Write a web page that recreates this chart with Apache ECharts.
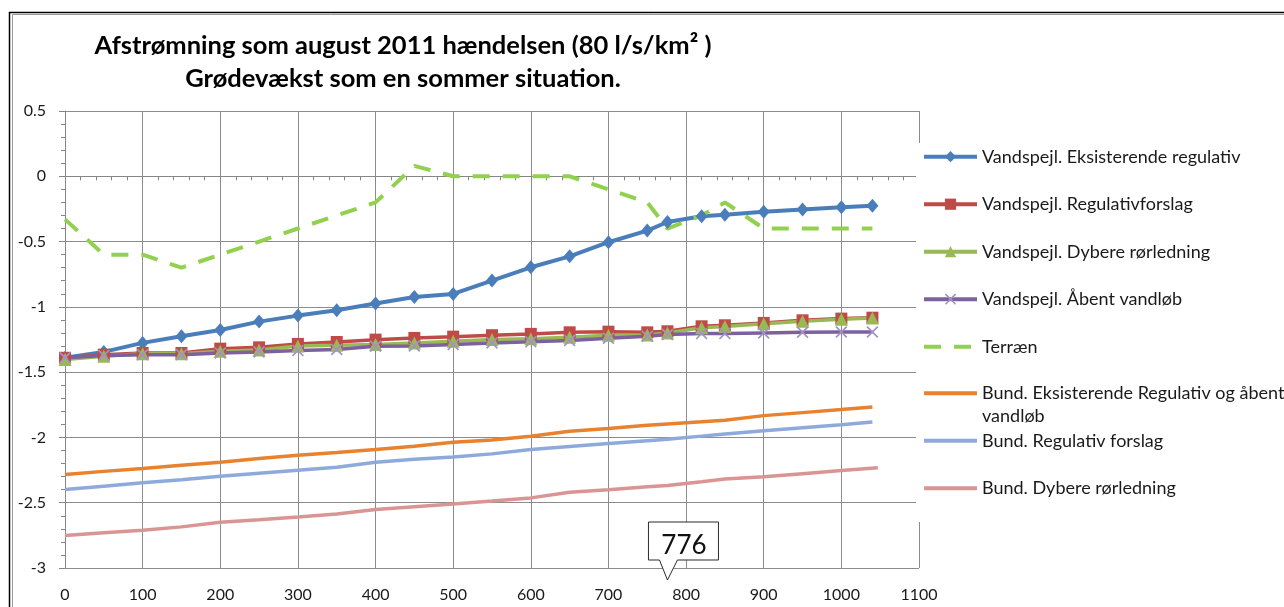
<!DOCTYPE html>
<html>
<head>
<meta charset="utf-8">
<script src="https://cdn.jsdelivr.net/npm/echarts@6/dist/echarts.min.js"></script>
<style>
html,body{margin:0;padding:0;background:#fff;}
#chart{width:1284px;height:607px;}
</style>
</head>
<body>
<div id="chart"></div>
<script>
// ---- data ----
const titleText = 'Afstrømning som august 2011 hændelsen (80 l/s/km² )\nGrødevækst som en sommer situation.';
const seriesNames = [
  'Vandspejl. Eksisterende regulativ',
  'Vandspejl. Regulativforslag',
  'Vandspejl. Dybere rørledning',
  'Vandspejl. Åbent vandløb',
  'Terræn',
  'Bund. Eksisterende Regulativ og åbent vandløb',
  'Bund. Regulativ forslag',
  'Bund. Dybere rørledning'
];
const stations = [0,50,100,150,200,250,300,350,400,450,500,550,600,650,700,750,776,820,850,900,950,1000,1040];
const stationsPink = [0,50,100,150,200,250,300,350,400,450,500,550,600,650,700,750,776,820,850,900,950,1000,1047];
const vsEksisterende = [-1.39,-1.345,-1.276,-1.225,-1.177,-1.113,-1.067,-1.026,-0.975,-0.924,-0.901,-0.799,-0.697,-0.613,-0.505,-0.416,-0.35,-0.306,-0.294,-0.271,-0.255,-0.237,-0.225];
const vsForslag = [-1.39,-1.366,-1.353,-1.353,-1.32,-1.31,-1.284,-1.269,-1.251,-1.238,-1.228,-1.217,-1.207,-1.195,-1.19,-1.195,-1.187,-1.149,-1.141,-1.123,-1.103,-1.09,-1.083];
const vsDybere = [-1.404,-1.378,-1.36,-1.36,-1.34,-1.33,-1.3,-1.294,-1.289,-1.276,-1.264,-1.25,-1.245,-1.233,-1.217,-1.215,-1.2,-1.16,-1.15,-1.13,-1.11,-1.095,-1.085];
const vsAabent = [-1.39,-1.373,-1.366,-1.366,-1.353,-1.345,-1.335,-1.327,-1.302,-1.3,-1.289,-1.276,-1.268,-1.258,-1.24,-1.225,-1.212,-1.205,-1.205,-1.2,-1.195,-1.192,-1.192];
const terraen = [-0.33,-0.6,-0.6,-0.7,-0.6,-0.5,-0.4,-0.3,-0.2,0.08,0,0,0,0,-0.1,-0.2,-0.4,-0.3,-0.2,-0.4,-0.4,-0.4,-0.4];
const bundEksisterende = [-2.284,-2.26,-2.238,-2.213,-2.19,-2.162,-2.136,-2.116,-2.093,-2.067,-2.037,-2.019,-1.991,-1.953,-1.932,-1.907,-1.897,-1.88,-1.868,-1.833,-1.81,-1.787,-1.767];
const bundForslag = [-2.399,-2.373,-2.348,-2.325,-2.297,-2.274,-2.251,-2.228,-2.19,-2.168,-2.15,-2.126,-2.093,-2.07,-2.047,-2.025,-2.014,-1.99,-1.973,-1.948,-1.925,-1.902,-1.881];
const bundDybere = [-2.751,-2.73,-2.711,-2.685,-2.649,-2.63,-2.609,-2.586,-2.552,-2.53,-2.509,-2.487,-2.463,-2.42,-2.4,-2.378,-2.368,-2.34,-2.318,-2.302,-2.278,-2.254,-2.233];
const calloutValue = 776;
const calloutLabel = '776';

// ---- chart ----
const FONT = 'Lato';
const pairs = (xs, ys) => xs.map((x, i) => [x, ys[i]]);
const xCross = 'path://M0,1L1,0L5,4L9,0L10,1L6,5L10,9L9,10L5,6L1,10L0,9L4,5Z';
const terrainDash = [17, 13];

const chart = echarts.init(document.getElementById('chart'), null, {renderer: 'canvas'});

function lineSeries(name, data, color, extra) {
  return Object.assign({
    name: name,
    type: 'line',
    data: data,
    showSymbol: false,
    symbol: 'none',
    animation: false,
    lineStyle: {color: color, width: 3.5},
    itemStyle: {color: color},
    emphasis: {disabled: true}
  }, extra || {});
}

const hiddenMarker = {opacity: 0};

const legendCommon = {
  orient: 'vertical',
  left: 922,
  padding: 0,
  itemWidth: 53,
  itemHeight: 14,
  itemGap: 24.5,
  z: 60,
  selectedMode: false,
  lineStyle: {width: 4},
  textStyle: {fontFamily: FONT, fontSize: 18, color: '#1a1a1a', lineHeight: 23}
};

const option = {
  backgroundColor: '#ffffff',
  animation: false,
  title: {
    text: titleText,
    left: 403,
    top: 29,
    padding: 0,
    textAlign: 'center',
    textStyle: {fontFamily: FONT, fontWeight: 'bold', fontSize: 25.5, lineHeight: 33, color: '#000'}
  },
  grid: {left: 65, right: 365, top: 111, bottom: 39, containLabel: false},
  xAxis: {
    type: 'value',
    min: 0, max: 1100, interval: 100,
    axisLine: {show: true, lineStyle: {color: '#868686', width: 1}},
    axisTick: {show: true, length: 6, lineStyle: {color: '#868686'}},
    minorTick: {show: true, splitNumber: 5, length: 4, lineStyle: {color: '#868686'}},
    splitLine: {show: true, lineStyle: {color: '#8c8c8c', width: 1}},
    axisLabel: {fontFamily: FONT, fontSize: 16, color: '#1a1a1a', margin: 19, formatter: function (v) { return String(v); }}
  },
  yAxis: {
    type: 'value',
    min: -3, max: 0.5, interval: 0.5,
    axisLine: {show: true, lineStyle: {color: '#868686', width: 1}},
    axisTick: {show: true, length: 6, lineStyle: {color: '#868686'}},
    minorTick: {show: true, splitNumber: 5, length: 4, lineStyle: {color: '#868686'}},
    splitLine: {show: true, lineStyle: {color: '#8c8c8c', width: 1}},
    axisLabel: {fontFamily: FONT, fontSize: 16, color: '#1a1a1a', margin: 19, formatter: function (v) { return String(v); }}
  },
  legend: [
    Object.assign({}, legendCommon, {
      top: 145.2,
      data: [
        {name: seriesNames[0]},
        {name: seriesNames[1]},
        {name: seriesNames[2]},
        {name: seriesNames[3]},
        {name: seriesNames[4], itemStyle: hiddenMarker, lineStyle: {type: terrainDash, width: 4, color: '#92d050'}}
      ]
    }),
    Object.assign({}, legendCommon, {
      top: 358.8,
      formatter: function () { return '\u200b\nBund. Eksisterende Regulativ og åbent\nvandløb'; },
      data: [{name: seriesNames[5], itemStyle: hiddenMarker}]
    }),
    Object.assign({}, legendCommon, {
      top: 429.2,
      data: [{name: seriesNames[6], itemStyle: hiddenMarker}, {name: seriesNames[7], itemStyle: hiddenMarker}]
    })
  ],
  series: [
    lineSeries(seriesNames[0], pairs(stations, vsEksisterende), '#4a7ebb', {
      showSymbol: true, symbol: 'diamond', symbolSize: [12, 14],
      lineStyle: {color: '#4a7ebb', width: 4},
      itemStyle: {color: '#4a7ebb'}
    }),
    lineSeries(seriesNames[1], pairs(stations, vsForslag), '#be4b48', {
      showSymbol: true, symbol: 'rect', symbolSize: 12,
      itemStyle: {color: '#be4b48'}
    }),
    lineSeries(seriesNames[2], pairs(stations, vsDybere), '#98b954', {
      showSymbol: true, symbol: 'triangle', symbolSize: 13,
      itemStyle: {color: '#98b954'}
    }),
    lineSeries(seriesNames[3], pairs(stations, vsAabent), '#7d60a0', {
      showSymbol: true, symbol: xCross, symbolSize: 12,
      itemStyle: {color: '#a292c4'}
    }),
    lineSeries(seriesNames[4], pairs(stations, terraen), '#92d050', {
      lineStyle: {color: '#92d050', width: 4, type: terrainDash}
    }),
    lineSeries(seriesNames[5], pairs(stations, bundEksisterende), '#e8822f'),
    lineSeries(seriesNames[6], pairs(stations, bundForslag), '#8eaadb'),
    lineSeries(seriesNames[7], pairs(stationsPink, bundDybere), '#d99593')
  ]
};

chart.setOption(option);

// callout pointing at x = calloutValue, anchored just below the x axis
const tip = chart.convertToPixel({gridIndex: 0}, [calloutValue, -3]);
const tx = tip[0], ty = tip[1] + 12;
chart.setOption({
  graphic: [
    {type: 'rect', z: 50, silent: true, shape: {x: 916, y: 143, width: 400, height: 379}, style: {fill: '#ffffff'}},
    {type: 'rect', z: 70, silent: true, shape: {x: 9.5, y: 12.5, width: 1400, height: 800}, style: {fill: 'none', stroke: '#000', lineWidth: 1.5}},
    {type: 'rect', z: 70, silent: true, shape: {x: 12.5, y: 14.5, width: 1400, height: 800}, style: {fill: 'none', stroke: '#9a9a9a', lineWidth: 1}},
    {
      type: 'polygon', z: 80,
      shape: {points: [[tx - 19, ty - 58], [tx + 51, ty - 58], [tx + 51, ty - 20], [tx + 10, ty - 20], [tx, ty], [tx - 8, ty - 20], [tx - 19, ty - 20]]},
      style: {fill: '#ffffff', stroke: '#2b2b2b', lineWidth: 1}
    },
    {
      type: 'text', z: 81,
      x: tx + 16.5, y: ty - 34.5,
      style: {text: calloutLabel, fontFamily: FONT, fontSize: 26, fill: '#111', align: 'center', verticalAlign: 'middle'}
    }
  ]
});
</script>
</body>
</html>
